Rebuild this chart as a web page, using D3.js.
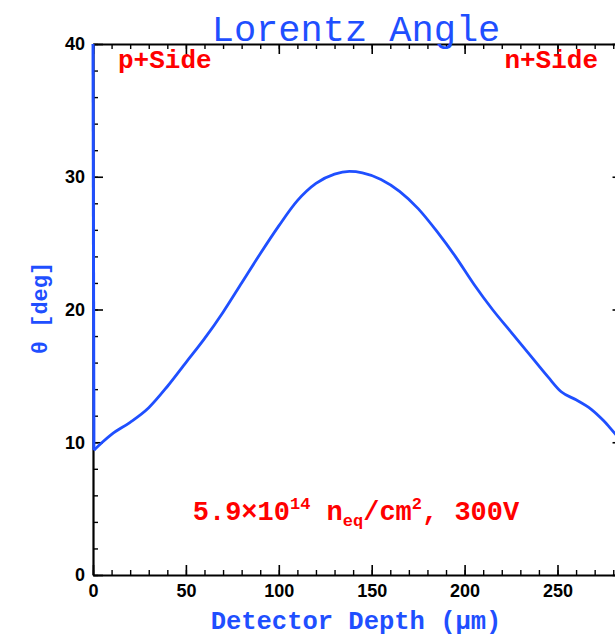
<!DOCTYPE html>
<html>
<head>
<meta charset="utf-8">
<script src="https://cdn.jsdelivr.net/npm/d3@7"></script>
<style>
  body { margin: 0; background: #fff; }
  svg { display: block; }
</style>
</head>
<body>
<div id="chart"></div>
<script>
// Lorentz angle vs depth
const depth = [0, 0.5, 5, 10, 20, 30, 40, 50, 60, 70, 80, 90, 100, 110, 120, 130, 138, 145,
               155, 165, 175, 185, 195, 205, 215, 225, 235, 245, 252, 260, 268, 275, 282, 290];
const angle = [41, 9.4, 10.0, 10.6, 11.5, 12.6, 14.2, 16.0, 17.8, 19.8, 22.0, 24.2, 26.3, 28.2, 29.5, 30.2, 30.4, 30.3,
               29.8, 28.9, 27.6, 25.9, 24.0, 21.9, 20.0, 18.3, 16.6, 14.9, 13.8, 13.2, 12.5, 11.6, 10.5, 9.6];

const xTicks = [0, 50, 100, 150, 200, 250];
const yTicks = [0, 10, 20, 30, 40];

const width = 615;
const height = 638;
const margin = {left: 93, top: 44, bottom: 63};

const blue = "#1f4fff";
const red = "#ff0000";

let svg = d3.select("#chart")
  .append("svg")
  .attr("width", width)
  .attr("height", height);

let xScale = d3.scaleLinear()
  .domain([0, 285])
  .range([margin.left, margin.left + 285 * 1.858]);

let yScale = d3.scaleLinear()
  .domain([0, 40])
  .range([height - margin.bottom, margin.top]);

const x0 = xScale(0), x1 = xScale(285), y0 = yScale(0), y1 = yScale(40);

svg.append("defs").append("clipPath").attr("id", "clip")
  .append("rect").attr("x", 0).attr("y", y1).attr("width", x1).attr("height", y0 - y1);

const tickStyle = (g) => {
  g.select(".domain").attr("stroke-width", 2.2);
  g.selectAll(".tick line").attr("stroke-width", 1.6);
  g.selectAll("text").attr("font-family", "Liberation Sans, Arial, sans-serif")
    .attr("font-weight", "bold").attr("font-size", "18px").attr("fill", "#000");
};

// minor ticks
svg.append("g").attr("transform", `translate(0,${y0})`)
  .call(d3.axisBottom(xScale).tickValues(d3.range(0, 290, 10)).tickSize(-5).tickFormat(""))
  .call(g => g.select(".domain").remove()).call(g => g.selectAll("line").attr("stroke-width", 1.4));
svg.append("g").attr("transform", `translate(0,${y1})`)
  .call(d3.axisTop(xScale).tickValues(d3.range(0, 290, 10)).tickSize(-5).tickFormat(""))
  .call(g => g.select(".domain").remove()).call(g => g.selectAll("line").attr("stroke-width", 1.4));
svg.append("g").attr("transform", `translate(${x0},0)`)
  .call(d3.axisLeft(yScale).tickValues(d3.range(0, 41, 2)).tickSize(-5).tickFormat(""))
  .call(g => g.select(".domain").remove()).call(g => g.selectAll("line").attr("stroke-width", 1.4));
svg.append("g").attr("transform", `translate(${x1},0)`)
  .call(d3.axisRight(yScale).tickValues(d3.range(0, 41, 2)).tickSize(-5).tickFormat(""))
  .call(g => g.select(".domain").remove()).call(g => g.selectAll("line").attr("stroke-width", 1.4));

// major ticks
svg.append("g").attr("transform", `translate(0,${y0})`)
  .call(d3.axisBottom(xScale).tickValues(xTicks).tickSizeInner(-10).tickSizeOuter(0).tickPadding(9))
  .call(tickStyle);
svg.append("g").attr("transform", `translate(0,${y1})`)
  .call(d3.axisTop(xScale).tickValues(xTicks).tickSizeInner(-10).tickSizeOuter(0).tickFormat(""))
  .call(tickStyle);
svg.append("g").attr("transform", `translate(${x0},0)`)
  .call(d3.axisLeft(yScale).tickValues(yTicks).tickSizeInner(-10).tickSizeOuter(0).tickPadding(8))
  .call(tickStyle);
svg.append("g").attr("transform", `translate(${x1},0)`)
  .call(d3.axisRight(yScale).tickValues(yTicks).tickSizeInner(-10).tickSizeOuter(0).tickFormat(""))
  .call(tickStyle);

// curve: steep edge at depth 0, then smooth
const pts = depth.map((d, i) => [d, angle[i]]);

let edge = d3.line()
  .x(d => xScale(d[0]))
  .y(d => yScale(d[1]));

let smooth = d3.line()
  .x(d => xScale(d[0]))
  .y(d => yScale(d[1]))
  .curve(d3.curveMonotoneX);

svg.append("path")
  .datum(pts.slice(0, 2))
  .attr("clip-path", "url(#clip)")
  .attr("d", edge)
  .attr("fill", "none")
  .attr("stroke", blue)
  .attr("stroke-width", 3);

svg.append("path")
  .datum(pts.slice(1))
  .attr("clip-path", "url(#clip)")
  .attr("d", smooth)
  .attr("fill", "none")
  .attr("stroke", blue)
  .attr("stroke-width", 2.8);

const mono = "Liberation Mono, Courier New, monospace";

// title
svg.append("text")
  .attr("x", 356).attr("y", 41)
  .attr("text-anchor", "middle")
  .attr("font-family", mono).attr("font-size", "37px")
  .attr("fill", blue)
  .text("Lorentz Angle");

// side labels
svg.append("text").attr("x", 118).attr("y", 68)
  .attr("font-family", mono).attr("font-weight", "bold").attr("font-size", "26px")
  .attr("fill", red).text("p+Side");
svg.append("text").attr("x", 598).attr("y", 68).attr("text-anchor", "end")
  .attr("font-family", mono).attr("font-weight", "bold").attr("font-size", "26px")
  .attr("fill", red).text("n+Side");

// fluence annotation
let ann = svg.append("text").attr("x", 356).attr("y", 520).attr("text-anchor", "middle")
  .attr("font-family", mono).attr("font-weight", "bold").attr("font-size", "27px")
  .attr("fill", red);
ann.append("tspan").text("5.9×10");
ann.append("tspan").attr("dy", -11).attr("font-size", "17px").text("14");
ann.append("tspan").attr("dy", 11).text(" n");
ann.append("tspan").attr("dy", 6).attr("font-size", "17px").text("eq");
ann.append("tspan").attr("dy", -6).text("/cm");
ann.append("tspan").attr("dy", -11).attr("font-size", "17px").text("2");
ann.append("tspan").attr("dy", 11).text(", 300V");

// axis titles
svg.append("text").attr("x", 356).attr("y", 629).attr("text-anchor", "middle")
  .attr("font-family", mono).attr("font-weight", "bold").attr("font-size", "25.5px")
  .attr("fill", blue).text("Detector Depth (μm)");

svg.append("text")
  .attr("transform", "translate(47,308) rotate(-90)")
  .attr("text-anchor", "middle")
  .attr("font-family", mono).attr("font-weight", "bold").attr("font-size", "22px")
  .attr("fill", blue)
  .text("θ [deg]");
</script>
</body>
</html>
